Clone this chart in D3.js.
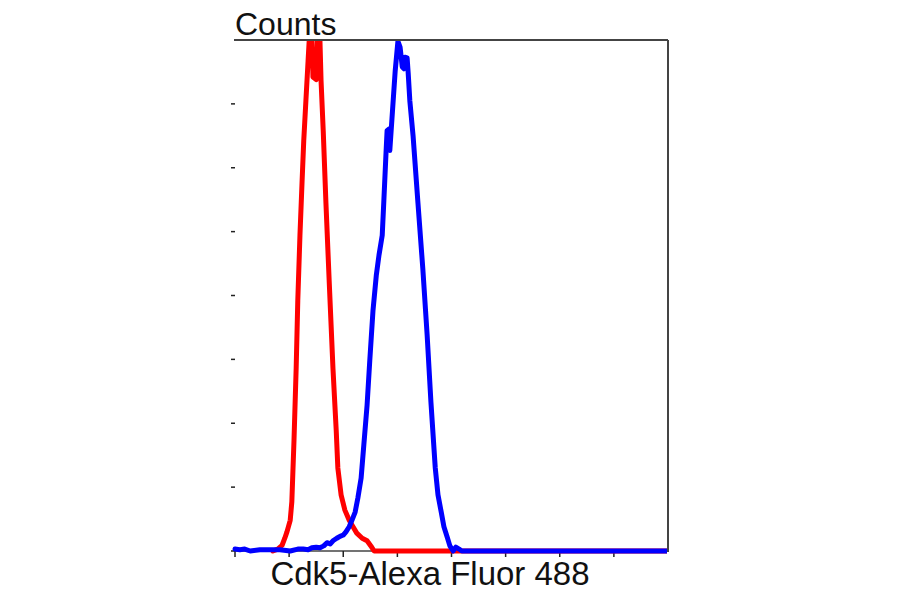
<!DOCTYPE html>
<html>
<head>
<meta charset="utf-8">
<script src="https://cdn.jsdelivr.net/npm/d3@7"></script>
<style>
  html, body { margin: 0; padding: 0; background: #fff; }
  svg { display: block; }
  text { font-family: "Liberation Sans", Arial, sans-serif; }
</style>
</head>
<body>
<svg id="chart" width="900" height="594"></svg>
<script>
// x in log decades of fluorescence, y in counts
const xTicks = [0, 1, 2, 3, 4, 5, 6, 7];
const yTicks = [0, 100, 200, 300, 400, 500, 600, 700];

const isotypeX = [0.70,0.79,0.87,0.92,0.96,1.02,1.05,1.09,1.13,1.16,1.20,1.24,1.27,1.31,1.35,1.37,1.39,1.42,1.44,1.50,1.53,1.55,1.57,1.59,1.63,1.68,1.74,1.81,1.87,1.90,1.96,2.03,2.11,2.18,2.25,2.35,2.44,2.51,2.57,8.0];
const isotypeY = [0,3,9,20,30,48,77,173,286,392,494,580,642,705,767,798,822,814,742,738,814,822,798,736,658,545,423,286,189,130,88,64,48,38,28,20,16,8,0,0];

const cdk5X = [0,0.09,0.18,0.28,0.46,0.65,0.83,1.02,1.16,1.26,1.35,1.42,1.50,1.57,1.64,1.70,1.76,1.81,1.88,1.94,2.00,2.05,2.11,2.16,2.22,2.27,2.33,2.38,2.44,2.49,2.55,2.61,2.66,2.72,2.75,2.79,2.81,2.85,2.86,2.90,2.96,3.01,3.05,3.09,3.12,3.14,3.18,3.20,3.23,3.29,3.38,3.47,3.55,3.62,3.70,3.75,3.81,3.86,3.92,3.97,4.03,4.08,4.14,4.19,8.0];
const cdk5Y = [3,2,3,0,2,2,2,0,3,3,2,5,6,5,8,13,11,16,20,23,25,30,38,48,61,83,114,166,228,298,377,431,463,494,548,623,658,661,627,677,752,798,789,758,755,773,772,748,705,650,545,442,338,233,130,88,61,38,22,8,0,6,3,0,0];

const xLabel = "Cdk5-Alexa Fluor 488";
const yLabel = "Counts";

const pLeft = 235, pRight = 668, pTop = 40, pBottom = 551;
const svg = d3.select("#chart");
const x = d3.scaleLinear().domain([0, 8]).range([pLeft, pRight]);
const y = d3.scaleLinear().domain([0, 800]).range([pBottom, pTop]);

// frame: top, right, bottom
svg.append("line").attr("x1", pLeft - 1).attr("x2", pRight).attr("y1", pTop).attr("y2", pTop)
  .attr("stroke", "#444").attr("stroke-width", 2);
svg.append("line").attr("x1", pRight).attr("x2", pRight).attr("y1", pTop).attr("y2", pBottom + 1)
  .attr("stroke", "#444").attr("stroke-width", 2);
svg.append("line").attr("x1", pLeft).attr("x2", pRight).attr("y1", pBottom).attr("y2", pBottom)
  .attr("stroke", "#444").attr("stroke-width", 1.5);

// x ticks
svg.append("g").selectAll("line").data(xTicks).join("line")
  .attr("x1", d => x(d)).attr("x2", d => x(d))
  .attr("y1", pBottom).attr("y2", pBottom + 6)
  .attr("stroke", "#222").attr("stroke-width", 1.5);
// y ticks
svg.append("g").selectAll("line").data(yTicks).join("line")
  .attr("x1", pLeft - 4).attr("x2", pLeft)
  .attr("y1", d => y(d)).attr("y2", d => y(d))
  .attr("stroke", "#222").attr("stroke-width", 1.5);

svg.append("clipPath").attr("id", "clip").append("rect")
  .attr("x", pLeft - 3).attr("y", pTop + 1).attr("width", pRight - pLeft + 2).attr("height", pBottom - pTop + 5);

const line = d3.line().x(d => x(d[0])).y(d => y(d[1]));
const plot = svg.append("g").attr("clip-path", "url(#clip)");
plot.append("path").datum(d3.zip(isotypeX, isotypeY)).attr("d", line)
  .attr("fill", "none").attr("stroke", "#ff0000").attr("stroke-width", 5)
  .attr("stroke-linejoin", "round").attr("stroke-linecap", "round");
plot.append("path").datum(d3.zip(cdk5X, cdk5Y)).attr("d", line)
  .attr("fill", "none").attr("stroke", "#0000ff").attr("stroke-width", 5)
  .attr("stroke-linejoin", "round").attr("stroke-linecap", "round");

svg.append("text").attr("x", pLeft).attr("y", 35)
  .attr("font-size", 32).attr("fill", "#111").text(yLabel);
svg.append("text").attr("x", 430).attr("y", 585).attr("text-anchor", "middle")
  .attr("font-size", 33).attr("fill", "#111").text(xLabel);
</script>
</body>
</html>
